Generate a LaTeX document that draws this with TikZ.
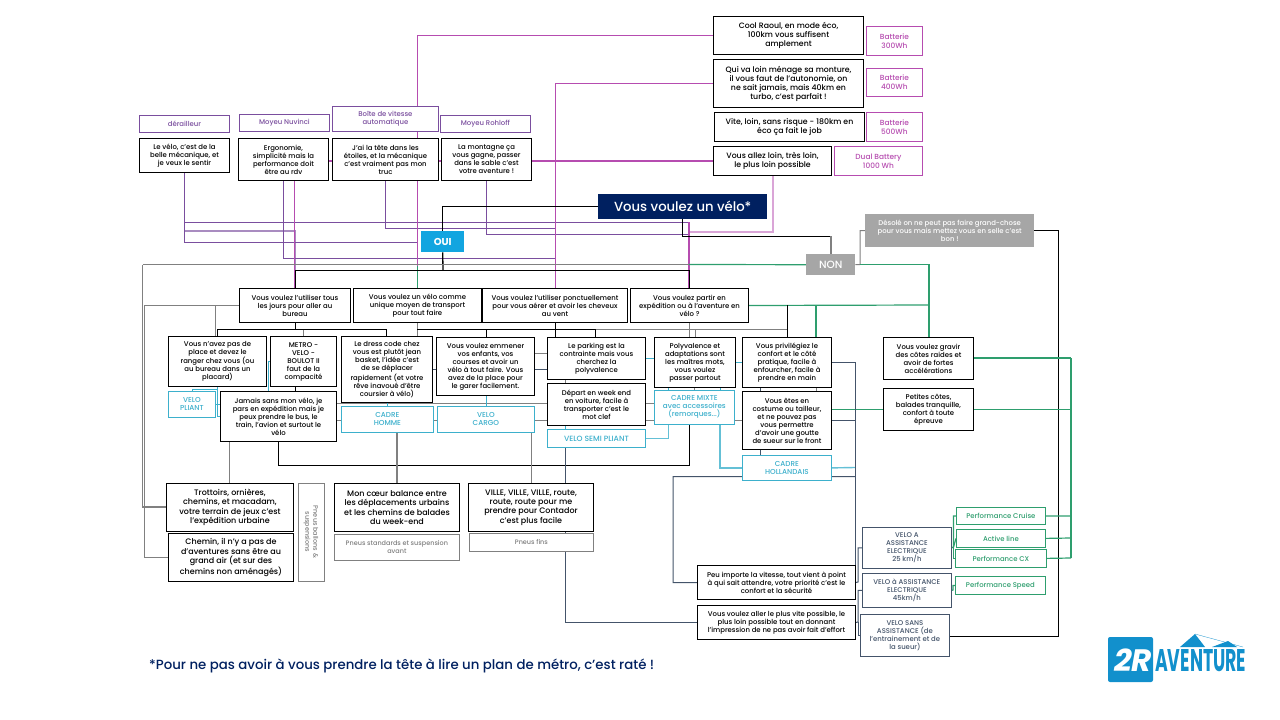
\documentclass[tikz,border=0pt]{standalone}
\usepackage{fontspec}
\setmainfont{Poppins}[UprightFont=* Medium,BoldFont=* Bold]
\usetikzlibrary{backgrounds}
\definecolor{navy}{HTML}{002060}
\definecolor{navyl}{HTML}{44546A}
\definecolor{gearc}{HTML}{7A4E9E}
\definecolor{pinkc}{HTML}{B64CB0}
\definecolor{cyanc}{HTML}{3DB0CC}
\definecolor{greenc}{HTML}{2E9E6E}
\definecolor{greyc}{HTML}{808080}
\definecolor{bluec}{HTML}{12A5E0}
\definecolor{logoc}{HTML}{1290CC}
\tikzset{
  every node/.style={anchor=north west,align=center,inner sep=0pt,fill=white,font=\fontsize{6.9}{8}\selectfont},
  sz/.style 2 args={minimum width=#1pt,minimum height=#2pt},
  qbox/.style={draw=black,line width=1pt},
  bigq/.style={font=\fontsize{8}{9.4}\selectfont},
  batq/.style={font=\fontsize{7.8}{9}\selectfont},
  gearbox/.style={draw=gearc,text=gearc,line width=.8pt},
  batbox/.style={draw=pinkc,text=pinkc,line width=.8pt,font=\fontsize{7.4}{9}\selectfont},
  cadre/.style={draw=cyanc,text=cyanc,line width=.8pt,font=\fontsize{7.2}{8}\selectfont},
  pneu/.style={draw=greyc,text=greyc,line width=.8pt,font=\fontsize{6.5}{8}\selectfont},
  motor/.style={draw=navyl,text=navyl,line width=.8pt},
  perf/.style={draw=greenc,text=greenc,line width=.8pt},
  gearl/.style={draw=gearc,line width=1pt},
  gearw/.style={draw=gearc!65,line width=1.5pt},
  pinkl/.style={draw=pinkc,line width=1.5pt},
  greyl/.style={draw=greyc,line width=1pt},
  greyw/.style={draw=greyc,line width=1.4pt},
  blackl/.style={draw=black,line width=1pt},
  cyanl/.style={draw=cyanc,line width=1pt},
  cyanw/.style={draw=cyanc!80,line width=1.4pt},
  greenl/.style={draw=greenc,line width=1.2pt},
  navyw/.style={draw=navyl,line width=1pt},
}
\begin{document}
\begin{tikzpicture}[x=1pt,y=-1pt]
  \useasboundingbox (0,0) rectangle (1280,720);
  % gears
  \node[gearbox,sz={90}{17}] (lderail) at (139,115) {dérailleur};
  \node[gearbox,sz={90}{17}] (lnuvinci) at (239,114) {Moyeu Nuvinci};
  \node[gearbox,sz={106}{25}] (lboite) at (332,106) {Boîte de vitesse\\automatique};
  \node[gearbox,sz={90}{17}] (lrohloff) at (440,115) {Moyeu Rohloff};
  \node[qbox,sz={90}{34}] (velo) at (139,138) {Le vélo, c'est de la\\belle mécanique, et\\je veux le sentir};
  \node[qbox,sz={90}{42}] (ergo) at (238,138) {Ergonomie,\\simplicité mais la\\performance doit\\être au rdv};
  \node[qbox,sz={106}{42}] (auto) at (332,138) {J'ai la tête dans les\\étoiles, et la mécanique\\c'est vraiment pas mon\\truc};
  \node[qbox,sz={90}{42}] (sable) at (441,138) {La montagne ça\\vous gagne, passer\\dans le sable c'est\\votre aventure !};
  % batteries
  \node[qbox,batq,sz={150}{38}] (cool) at (713,16) {Cool Raoul, en mode éco,\\100km vous suffisent\\amplement};
  \node[qbox,batq,sz={150}{48}] (loin) at (713,59) {Qui va loin ménage sa monture,\\il vous faut de l'autonomie, on\\ne sait jamais, mais 40km en\\turbo, c'est parfait !};
  \node[qbox,batq,sz={150}{29}] (vite) at (714,112) {Vite, loin, sans risque - 180km en\\éco ça fait le job};
  \node[qbox,batq,sz={118}{29}] (tresloin) at (713,146) {Vous allez loin, très loin,\\le plus loin possible};
  \node[batbox,sz={56}{29}] (bat3) at (866,26) {Batterie\\300Wh};
  \node[batbox,sz={56}{28}] (bat4) at (866,68) {Batterie\\400Wh};
  \node[batbox,sz={56}{29}] (bat5) at (866,112) {Batterie\\500Wh};
  \node[batbox,sz={88}{29}] (bat10) at (834,146) {Dual Battery\\1000 Wh};
  % start
  \node[fill=navy,text=white,sz={169}{25},font=\fontsize{13.2}{14}\selectfont] (titre) at (598,194) {Vous voulez un vélo*};
  \node[fill=bluec,text=white,sz={43}{21},font=\fontsize{10}{12}\selectfont\bfseries] (oui) at (421,231) {OUI};
  \node[fill=greyc!70,text=white,sz={49}{21},font=\fontsize{10.5}{12}\selectfont] (non) at (806,254) {NON};
  \node[fill=greyc!70,text=white,sz={169}{33}] (desole) at (865,214) {Désolé on ne peut pas faire grand-chose\\pour vous mais mettez vous en selle c'est\\bon !};
  % usage
  \node[qbox,sz={111}{34}] (bureau) at (239,288) {Vous voulez l'utiliser tous\\les jours pour aller au\\bureau};
  \node[qbox,sz={128}{34}] (unique) at (353,288) {Vous voulez un vélo comme\\unique moyen de transport\\pour tout faire};
  \node[qbox,sz={145}{34}] (ponct) at (482,288) {Vous voulez l'utiliser ponctuellement\\pour vous aérer et avoir les cheveux\\au vent};
  \node[qbox,sz={118}{34}] (exped) at (630,288) {Vous voulez partir en\\expédition ou à l'aventure en\\vélo ?};
  % profils
  \node[qbox,sz={98}{50}] (place) at (168,336) {Vous n'avez pas de\\place et devez le\\ranger chez vous (ou\\au bureau dans un\\placard)};
  \node[qbox,sz={66}{50}] (metro) at (270,336) {METRO -\\VELO -\\BOULOT II\\faut de la\\compacité};
  \node[qbox,sz={91}{66}] (dress) at (341,336) {Le dress code chez\\vous est plutôt jean\\basket, l'idée c'est\\de se déplacer\\rapidement (et votre\\rêve inavoué d'être\\coursier à vélo)};
  \node[qbox,sz={98}{58}] (emmener) at (436,337) {Vous voulez emmener\\vos enfants, vos\\courses et avoir un\\vélo à tout faire. Vous\\avez de la place pour\\le garer facilement.};
  \node[qbox,sz={98}{42}] (parking) at (547,337) {Le parking est la\\contrainte mais vous\\cherchez la\\polyvalence};
  \node[qbox,sz={98}{42}] (weekend) at (547,383) {Départ en week end\\en voiture, facile à\\transporter c'est le\\mot clef};
  \node[qbox,sz={81}{50}] (polyv) at (654,337) {Polyvalence et\\adaptations sont\\les maîtres mots,\\vous voulez\\passer partout};
  \node[qbox,sz={89}{50}] (confort) at (742,337) {Vous privilégiez le\\confort et le côté\\pratique, facile à\\enfourcher, facile à\\prendre en main};
  \node[qbox,sz={89}{58}] (costume) at (742,391) {Vous êtes en\\costume ou tailleur,\\et ne pouvez pas\\vous permettre\\d'avoir une goutte\\de sueur sur le front};
  \node[qbox,sz={116}{50}] (jamais) at (220,391) {Jamais sans mon vélo, je\\pars en expédition mais je\\peux prendre le bus, le\\train, l'avion et surtout le\\vélo};
  \node[qbox,sz={90}{42}] (gravir) at (883,337) {Vous voulez gravir\\des côtes raides et\\avoir de fortes\\accélérations};
  \node[qbox,sz={90}{42}] (petites) at (883,388) {Petites côtes,\\balades tranquille,\\confort à toute\\épreuve};
  % cadres
  \node[cadre,sz={47}{26}] (pliant) at (168,391) {VELO\\PLIANT};
  \node[cadre,sz={92}{26}] (chomme) at (341,406) {CADRE\\HOMME};
  \node[cadre,sz={97}{26}] (cargo) at (437,406) {VELO\\CARGO};
  \node[cadre,sz={98}{18},font=\fontsize{7.6}{8}\selectfont] (semi) at (547,429) {VELO SEMI PLIANT};
  \node[cadre,sz={80}{34}] (mixte) at (654,390) {CADRE MIXTE\\avec accessoires\\(remorques...)};
  \node[cadre,sz={89}{25}] (holl) at (742,455) {CADRE\\HOLLANDAIS};
  % terrain
  \node[qbox,bigq,sz={127}{48}] (trott) at (166,483) {Trottoirs, ornières,\\chemins, et macadam,\\votre terrain de jeux c'est\\l'expédition urbaine};
  \node[qbox,bigq,sz={125}{48}] (chemin) at (168,533) {Chemin, il n'y a pas de\\d'aventures sans être au\\grand air (et sur des\\chemins non aménagés)};
  \node[pneu,anchor=center,rotate=-90,sz={98}{26}] (ballons) at (311,532) {Pneus ballons \&\\suspensions};
  \node[qbox,bigq,sz={125}{48}] (coeur) at (334,483) {Mon cœur balance entre\\les déplacements urbains\\et les chemins de balades\\du week-end};
  \node[pneu,sz={125}{26}] (pstd) at (334,534) {Pneus standards et suspension\\avant};
  \node[qbox,bigq,sz={125}{48}] (ville) at (468,483) {VILLE, VILLE, VILLE, route,\\route, route pour me\\prendre pour Contador\\c'est plus facile};
  \node[pneu,sz={124}{18}] (pfins) at (469,533) {Pneus fins};
  % moteurs
  \node[qbox,sz={158}{34}] (peu) at (697,565) {Peu importe la vitesse, tout vient à point\\à qui sait attendre, votre priorité c'est le\\confort et la sécurité};
  \node[qbox,sz={158}{34}] (vitesse) at (697,605) {Vous voulez aller le plus vite possible, le\\plus loin possible tout en donnant\\l'impression de ne pas avoir fait d'effort};
  \node[motor,sz={89}{41}] (vae25) at (862,527) {VELO A\\ASSISTANCE\\ELECTRIQUE\\25 km/h};
  \node[motor,sz={89}{34}] (vae45) at (862,573) {VELO à ASSISTANCE\\ELECTRIQUE\\45km/h};
  \node[motor,sz={89}{42}] (sans) at (860,614) {VELO SANS\\ASSISTANCE (de\\l'entrainement et de\\la sueur)};
  \node[perf,sz={89}{17}] (cruise) at (956,507) {Performance Cruise};
  \node[perf,sz={89}{18}] (active) at (956,529) {Active line};
  \node[perf,sz={91}{18}] (cx) at (955,549) {Performance CX};
  \node[perf,sz={90}{18}] (speed) at (955,576) {Performance Speed};
  % note et logo
  \node[fill=none,text=navy,anchor=west,font=\fontsize{13.3}{14}\selectfont] (note) at (149,666) {*Pour ne pas avoir à vous prendre la tête à lire un plan de métro, c'est raté !};
  \fill[logoc,rounded corners=2pt] (1108,637) rectangle (1153,682);
  \fill[logoc] (1180,647) -- (1195,634) -- (1205,647) -- cycle;
  \fill[logoc] (1212,647) -- (1228,641) -- (1237,647) -- cycle;
  \draw[logoc,line width=.3pt] (1195,634) -- (1243,647);
  \node[fill=none,text=white,anchor=center,font=\fontsize{31}{31}\selectfont\bfseries\itshape] (deuxr) at (1133,660) {2R};
  \node[fill=none,text=logoc,anchor=west,font=\bfseries] (aventure) at (1155,661) {\resizebox{91pt}{22pt}{AVENTURE}};

  \begin{scope}[on background layer]
    % violet: transmission
    \draw[gearl] (velo.south -| 184.5,0) |- (689,222) -- (exped.north -| 689,0);
    \draw[gearw] (velo.south -| 184.5,0) |- (295,231) -- (bureau.north -| 295,0);
    \draw[gearl] (velo.south -| 184.5,0) |- (417.5,242.5);
    \draw[gearl] (ergo.south -| 283,0) |- (555.5,258);
    \draw[pinkl,line width=1pt] (ergo.south -| 294.5,0) -- (bureau.north -| 294.5,0);
    \draw[gearl] (auto.south -| 385,0) |- (555.5,228);
    \draw[gearl] (sable.south -| 486,0) |- (689,234.5);
    \draw[pinkl] (lboite.north -| 417.5,0) |- (cool.west);
    \draw[pinkl] (lboite.south -| 417.5,0) -- (auto.north -| 417.5,0);
    \draw[pinkl] (auto.south -| 417.5,0) -- (417.5,266);
    \draw[greenl] (417.5,266) -- (unique.north -| 417.5,0);
    \draw[pinkl] (ponct.north -| 555.5,0) |- (loin.west);
    \draw[pinkl] (tresloin.west) -- (ergo.east |- tresloin.west);
    \draw[draw=pinkc!50,line width=1.2pt] (tresloin.south -| 773,0) |- (689,232);
    \draw[pinkl] (689,222) -- (exped.north -| 689,0);
    % noir: depart
    \draw[blackl] (titre.west) -| (oui.north);
    \draw[blackl,line width=1.3pt] (oui.south) -- (443,270);
    \draw[blackl] (bureau.north -| 295,0) |- (689,270) -- (exped.north -| 689,0);
    \draw[blackl] (titre.south -| 682,0) |- (831,236);
    \draw[greyl,line width=1.4pt] (831,236) -- (non.north -| 831,0);
    \draw[greyl] (non.east) -- (860,264.5) |- (desole.west);
    \draw[blackl] (desole.east) -| (1058,636) -- (sans.east |- 0,636);
    % gris
    \draw[greyl] (142.7,264.5) -- (689,264.5);
    \draw[greenl] (689,264.5) -- (non.west);
    \draw[greyw] (trott.west |- 0,507) -| (142.7,264.5);
    \draw[greyl] (chemin.west |- 0,557) -| (144.5,305) -- (bureau.west |- 0,305);
    \draw[greyl] (215,305) -- (place.north -| 215,0);
    % vert
    \draw[greenl] (860,264.5) -| (gravir.north -| 929,0);
    \draw[greenl] (exped.east) -- (929,305);
    \draw[greenl] (816,305) -- (confort.north -| 816,0);
    \draw[blackl] (787,305) -- (confort.north -| 787,0);
    \draw[greenl] (gravir.east |- 0,358) -- (1071,358);
    \draw[greenl] (petites.east |- 0,409.5) -- (1071,409.5);
    \draw[greenl] (1071,358) -- (1071,558);
    \draw[greenl] (cruise.east) -- (1071,516);
    \draw[greenl] (active.east) -- (1071,538);
    \draw[greenl] (cx.east) -- (1071,558);
    \draw[greenl] (costume.east |- 0,409.5) -- (883,409.5);
    \draw[greenl] (vae25.east) -- (953.5,547) |- (cruise.west);
    \draw[greenl] (953.5,547) -- (active.west);
    \draw[greenl] (953.5,547) |- (cx.west);
    \draw[greenl] (vae45.east) -- (953,590) |- (speed.west);
    % noir: profils
    \draw[blackl] (bureau.south -| 295,0) -- (295,329.7);
    \draw[blackl] (place.north -| 217,0) |- (386.7,329.7) -- (dress.north -| 386.7,0);
    \draw[greyl] (metro.north -| 303,0) -- (303,329.7);
    \draw[greyl] (unique.south -| 417,0) -- (dress.north -| 417,0);
    \draw[blackl] (417,329.7) -- (595.7,329.7) -- (parking.north -| 595.7,0);
    \draw[blackl] (486,329.7) -- (emmener.north -| 486,0);
    \draw[blackl] (ponct.south -| 555.5,0) -- (parking.north -| 555.5,0);
    \draw[greyl] (595.7,329.7) -- (787,329.7);
    \draw[greyl] (exped.south -| 689,0) -- (polyv.north -| 689,0);
    \draw[greyl] (695,329.7) -- (polyv.north -| 695,0);
    \draw[blackl] (metro.south -| 295,0) -- (jamais.north -| 295,0);
    % gris: niveaux
    \draw[greyw] (jamais.east |- 0,403.5) -- (mixte.west |- 0,403.5);
    \draw[greyl] (jamais.east |- 0,420) -- (costume.west |- 0,420);
    \draw[blackl] (jamais.south -| 278,0) |- (689,465) -- (mixte.south -| 689,0);
    \draw[greyl] (jamais.south -| 229,0) -- (trott.north -| 229,0);
    \draw[greyw] (chomme.south -| 397,0) -- (coeur.north -| 397,0);
    \draw[greyl] (cargo.south -| 531,0) -- (ville.north -| 531,0);
    \draw[greyl] (emmener.east |- 0,353) -- (parking.west |- 0,353);
    \draw[greyl] (parking.south -| 565,0) -- (weekend.north -| 565,0);
    \draw[greyl] (polyv.south -| 694,0) -- (mixte.north -| 694,0);
    \draw[navyw] (dress.east |- 0,369) -- (parking.west |- 0,369);
    % cyan
    \draw[cyanl] (pliant.north -| 192,0) |- (217,389) -- (place.south -| 217,0);
    \draw[cyanl] (217,389) |- (jamais.west |- 0,416);
    \draw[cyanl] (pliant.east |- 0,404) -- (jamais.west |- 0,404);
    \draw[cyanl] (metro.west |- 0,361) -| (jamais.north -| 268.7,0);
    \draw[cyanl] (dress.south -| 387,0) -- (chomme.north -| 387,0);
    \draw[cyanl] (emmener.south -| 486,0) -- (cargo.north -| 486,0);
    \draw[cyanl] (parking.east |- 0,358) -- (polyv.west |- 0,358);
    \draw[cyanl] (polyv.east |- 0,362) -- (confort.west |- 0,362);
    \draw[cyanl] (weekend.south -| 565,0) -- (semi.north -| 565,0);
    \draw[cyanw] (semi.east) -| (mixte.south -| 668.5,0);
    \draw[cyanl] (polyv.south -| 668.5,0) -- (mixte.north -| 668.5,0);
    \draw[cyanl] (polyv.south -| 720,0) -- (mixte.north -| 720,0);
    \draw[cyanw] (mixte.south -| 720,0) |- (holl.west);
    \draw[cyanw] (holl.east) -- (855,467.5);
    \draw[greyl] (confort.south -| 816,0) -- (costume.north -| 816,0);
    \draw[navyw] (confort.south -| 760,0) -- (costume.north -| 760,0);
    \draw[navyw] (costume.south -| 760,0) -- (holl.north -| 760,0);
    % bleu sombre
    \draw[navyw] (confort.east |- 0,362) -| (peu.north -| 855,0);
    \draw[navyw] (costume.east |- 0,420) -- (855,420);
    \draw[navyw] (855,476.7) -| (673,582.7) -- (peu.west);
    \draw[navyw] (semi.south -| 565,0) |- (vitesse.west);
    \draw[navyw] (peu.east) -- (858,582) |- (vae25.west);
    \draw[navyw] (vitesse.east) -- (858,622) |- (vae45.west);
    \draw[navyw] (858,622) |- (sans.west);
  \end{scope}
\end{tikzpicture}
\end{document}
